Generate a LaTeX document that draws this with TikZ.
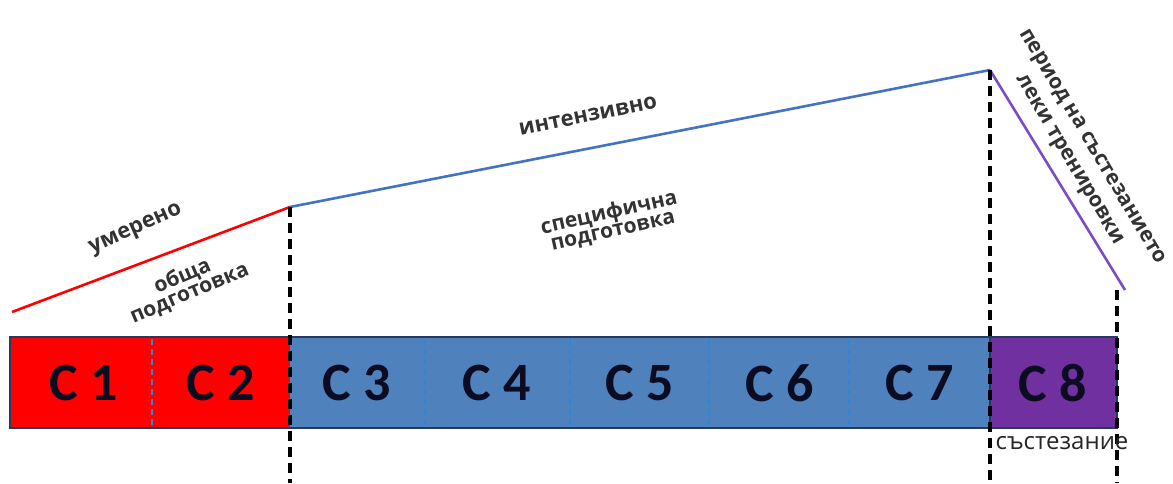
\documentclass[tikz,border=0pt]{standalone}
\usepackage{fontspec}
\setmainfont{Carlito}
\newfontfamily\capfont{Open Sans}
\definecolor{barred}{HTML}{FF0000}
\definecolor{barblue}{HTML}{4F81BD}
\definecolor{barpurple}{HTML}{7030A0}
\definecolor{baredge}{HTML}{243A5E}
\definecolor{divblue}{HTML}{2E86D6}
\definecolor{lineblue}{HTML}{4472C4}
\definecolor{linepurple}{HTML}{7B4CC2}
\definecolor{labelink}{HTML}{0B0B22}
\tikzset{
  seglabel/.style={font=\fontsize{54}{58}\selectfont\bfseries, text=labelink, inner sep=0pt},
  phase/.style={font=\capfont\fontsize{22}{22}\selectfont\bfseries, text=black!80, align=center, inner sep=0pt},
  phasetwo/.style={phase, font=\capfont\fontsize{21}{18}\selectfont\bfseries},
  phasewide/.style={phase, font=\capfont\fontsize{21}{26}\selectfont\bfseries},
  divider/.style={divblue, line width=1.3pt, dash pattern=on 6pt off 4pt},
  marker/.style={black, line width=3.2pt, dash pattern=on 10pt off 6pt},
  trend/.style={line width=2.6pt}
}
\begin{document}
\begin{tikzpicture}[x=1pt,y=-1pt]
\useasboundingbox (0,0) rectangle (1173,483);
% bar segments
\fill[barred] (10,337) rectangle (290,428);
\fill[barblue] (290,337) rectangle (990,428);
\fill[barpurple] (990,337) rectangle (1117,428);
% dividers between months
\foreach \x in {152,425,570,709,849}
  \draw[divider] (\x,339) -- (\x,426);
\draw[baredge, line width=2.2pt] (10,337) rectangle (1117,428);
\draw[baredge, line width=2.2pt] (990,337) -- (990,428);
% month labels
\node[seglabel] (c1) at (84,383) {C 1};
\node[seglabel] (c2) at (221,383) {C 2};
\node[seglabel] (c3) at (357,383) {C 3};
\node[seglabel] (c4) at (497,383) {C 4};
\node[seglabel] (c5) at (640,383) {C 5};
\node[seglabel] (c6) at (780,383) {C 6};
\node[seglabel] (c7) at (920,383) {C 7};
\node[seglabel] (c8) at (1053,383) {C 8};
% load curve
\coordinate (p0) at (12,312);
\coordinate (p1) at (290,207);
\coordinate (p2) at (990,70);
\coordinate (p3) at (1125,290);
\draw[trend, barred] (p0) -- (p1);
\draw[trend, lineblue] (p1) -- (p2);
\draw[trend, linepurple] (p2) -- (p3);
% period boundaries
\coordinate (b1) at (290,483);
\coordinate (b2) at (990,483);
\coordinate (t3) at (1117,290);
\coordinate (b3) at (1117,483);
\draw[marker] (p1) -- (b1);
\draw[marker] (p2) -- (b2);
\draw[marker] (t3) -- (b3);
% phase captions
\node[phase, rotate=24] (mod) at (136,230) {умерено};
\node[phasetwo, rotate=23] (gen) at (186,285) {обща\\подготовка};
\node[phase, rotate=11.5] (int) at (588,116) {интензивно};
\node[phasetwo, rotate=12.5] (spec) at (611,222) {специфична\\подготовка};
\node[phasewide, rotate=-59.4] (comp) at (1080,154) {период на състезанието\\леки тренировки};
\node[font=\capfont\fontsize{24}{24}\selectfont, text=black!85, inner sep=0pt] (race) at (1062,443) {състезание};
\end{tikzpicture}
\end{document}
